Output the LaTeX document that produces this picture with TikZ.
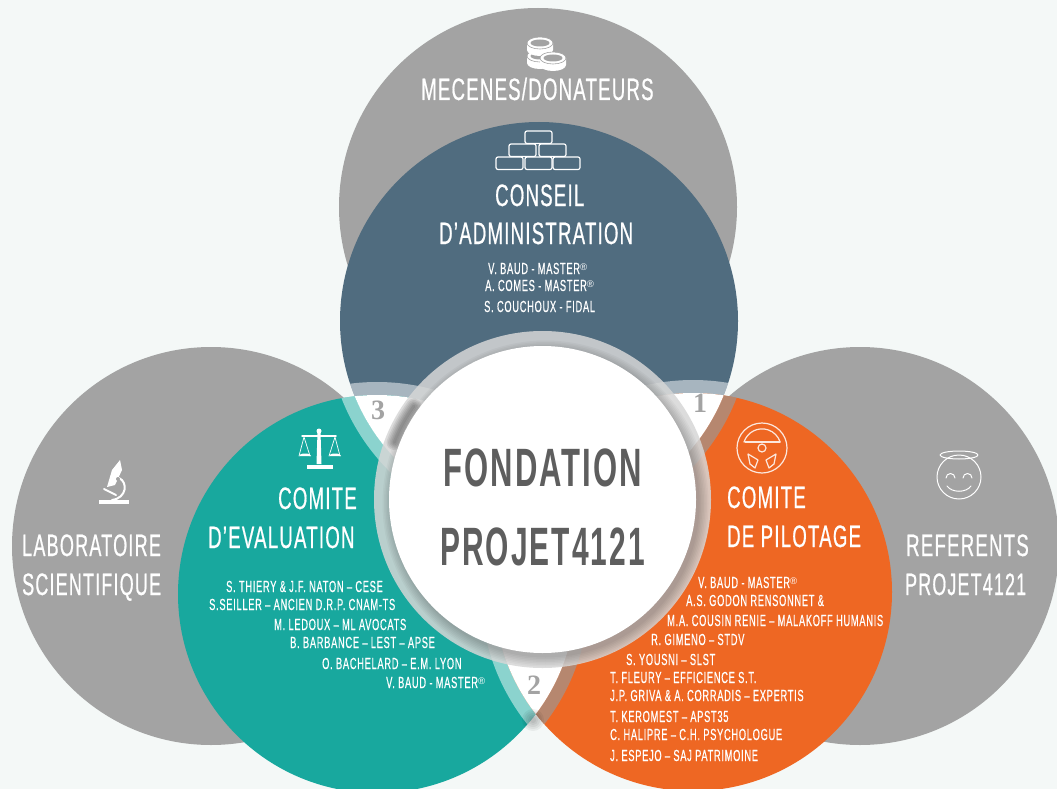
\documentclass[tikz,border=0pt]{standalone}
\usepackage{fontspec}
\setmainfont{Liberation Sans}
\newfontfamily\fonthead[FakeStretch=0.6,LetterSpace=4,FakeBold=0.6]{Liberation Sans}
\newfontfamily\fontnom[FakeStretch=0.58,LetterSpace=4.5,FakeBold=0.5]{Liberation Sans}
\newfontfamily\fontcentre[FakeStretch=0.58,LetterSpace=4]{Liberation Sans Bold}
\newfontfamily\fontnum{Liberation Serif}
\definecolor{fond}{HTML}{F4F8F7}
\definecolor{gris}{HTML}{A3A3A3}
\definecolor{bleu}{HTML}{506C7F}
\definecolor{turq}{HTML}{18A89E}
\definecolor{oran}{HTML}{EE6723}
\definecolor{sombre}{HTML}{5E5E5E}
\newcommand{\marque}{\raisebox{.45ex}{\scalebox{.6}{\normalfont ®}}}
\tikzset{
  titre/.style={anchor=base west,inner sep=0pt,text=white,font=\fonthead\fontsize{31}{31}\selectfont},
  nom/.style={anchor=base west,inner sep=0pt,text=white,font=\fontnom\fontsize{16}{16}\selectfont},
  centre/.style={anchor=base west,inner sep=0pt,text=sombre,font=\fontcentre\fontsize{54}{54}\selectfont},
  chiffre/.style={inner sep=0pt,text=gris,font=\fontnum\bfseries\fontsize{28}{28}\selectfont},
  trait/.style={draw=white,line width=1.2pt},
  volant/.style={draw=white!85!oran,line width=1.2pt},
  bandeclair/.style={fill=white,opacity=.5,even odd rule},
  bandebrun/.style={fill=gray!80,opacity=.65,even odd rule}
}
\begin{document}
\begin{tikzpicture}[x=1pt,y=-1pt,line cap=round,line join=round]
\useasboundingbox (0,0) rectangle (1057,789);
\fill[fond] (0,0) rectangle (1057,789);

\coordinate (chaut) at (538,207);
\coordinate (cgauche) at (211,546);
\coordinate (cdroite) at (860,546);
\coordinate (cbleu) at (539,321);
\coordinate (cturq) at (377,594);
\coordinate (coran) at (693,592);
\coordinate (ccentre) at (542.5,499.5);

% grey circles
\fill[gris] (chaut) circle (199);
\fill[gris] (cgauche) circle (199);
\fill[gris] (cdroite) circle (199);
% coloured circles
\fill[bleu] (cbleu) circle (199);
\fill[turq] (cturq) circle (199);
\fill[oran] (coran) circle (199);

% bands along the overlaps
\begin{scope}
\clip (cbleu) circle (199);
\fill[bandeclair] (cturq) circle (212) (cturq) circle (199);
\fill[bandeclair] (coran) circle (212) (coran) circle (199);
\end{scope}
\begin{scope}
\clip (cturq) circle (199);
\fill[bandeclair] (cbleu) circle (212) (cbleu) circle (199);
\fill[bandeclair] (coran) circle (212) (coran) circle (199);
\end{scope}
\begin{scope}
\clip (coran) circle (199);
\fill[bandebrun] (cbleu) circle (212) (cbleu) circle (199);
\fill[bandebrun] (cturq) circle (212) (cturq) circle (199);
\end{scope}
% white overlaps
\begin{scope}
\clip (cbleu) circle (199);
\fill[white] (cturq) circle (199);
\fill[white] (coran) circle (199);
\end{scope}
\begin{scope}
\clip (cturq) circle (199);
\fill[white] (coran) circle (199);
\end{scope}
\foreach \r in {3,5,7,9,11}
  \fill[black,opacity=.05] (533,720) circle (\r);

% centre ring and its shadow
\fill[gray!32,opacity=.85] (ccentre) circle (168.5);
\begin{scope}
\clip (ccentre) circle (168.5);
\foreach \r in {154,155.5,...,163}
  \fill[black,opacity=.03] (545.5,503.5) circle (\r);
\foreach \w in {3,6,9,12,15}
  \draw[black,opacity=.08,line width=\w pt] (ccentre) ++(201:159) arc (201:216:159);
\end{scope}
\fill[white] (ccentre) circle (153.5);

% coins
\foreach \cx/\cy in {540/56,540/43,553/58}{
  \fill[white] (\cx-13,\cy) -- (\cx-13,\cy+7) arc (180:0:13 and 6) -- (\cx+13,\cy) -- cycle;
  \draw[gris,fill=white,line width=.6pt] (\cx,\cy) ellipse (13 and 6);
  \fill[gris] (\cx,\cy) ellipse (9.5 and 3.5);
}
% bricks
\foreach \bx/\by in {525/131,509/144,539/144,496/157,525/157,553/157}
  \draw[trait,rounded corners=2pt] (\bx,\by) rectangle ++(27,12.5);
% scales
\fill[white] (317.5,432) -- (320.5,432) -- (321.5,464) -- (316.5,464) -- cycle;
\fill[white] (307,465) rectangle (333,469);
\draw[white,line width=1.5pt] (302,436) -- (336,436);
\fill[white] (319,431) circle (2.5);
\draw[white,line width=.7pt] (299,456) -- (304,437) -- (310,456);
\draw[white,line width=.7pt] (329,456) -- (335,437) -- (340,456);
\fill[white] (299,456) arc (180:0:6 and -2.5) -- cycle;
\fill[white] (329,456) arc (180:0:6 and -2.5) -- cycle;
% steering wheel
\draw[volant] (762,448) circle (25);
\draw[volant] (762,448) circle (4);
\draw[volant] (744,442) arc (198:342:19);
\draw[volant] (745,442) -- (780,442);
\draw[volant] (748,454) -- (758,460) -- (755,468) -- (750,464) -- cycle;
\draw[volant] (776,454) -- (766,460) -- (769,468) -- (774,464) -- cycle;
% smiley
\draw[white,line width=1pt] (959,477) circle (22);
\draw[white,line width=1pt] (959,455) ellipse (19 and 4);
\draw[white,line width=1pt] (946,478) arc (180:360:4.5);
\draw[white,line width=1pt] (963,478) arc (180:360:4.5);
\draw[white,line width=1pt] (947,486) .. controls (952,493) and (966,493) .. (971,486);
% microscope
\fill[white] (99,500) rectangle (129,504);
\fill[white] (120,460) -- (112,470) -- (107,487) -- (115,485) -- (122,470) -- cycle;
\draw[white,line width=2pt] (119,478) .. controls (128,482) and (127,498) .. (112,500);
\draw[white,line width=2pt] (104,489) -- (116,495);
\fill[gris] (118,479) circle (2);

% top
\node[titre] (mecenes) at (421,100) {MECENES/DONATEURS};
\node[titre] (conseil) at (495,206) {CONSEIL};
\node[titre] (admin) at (439,244) {D’ADMINISTRATION};
\node[nom] (caun) at (488,274) {V. BAUD - MASTER\marque};
\node[nom] (cadeux) at (485,291) {A. COMES - MASTER\marque};
\node[nom] (catrois) at (484,312) {S. COUCHOUX - FIDAL};
% left and right
\node[titre] (labo) at (22,556) {\scalebox{.97}[1]{LABORATOIRE}};
\node[titre] (scient) at (22,595) {\scalebox{.965}[1]{SCIENTIFIQUE}};
\node[titre] (refer) at (906,556) {REFERENTS};
\node[titre] (projet) at (905,595) {\scalebox{.96}[1]{PROJET4121}};
% evaluation
\node[titre] (comeval) at (278,509) {COMITE};
\node[titre] (eval) at (208,548) {D’EVALUATION};
\node[nom] (evun) at (226,592) {S. THIERY \& J.F. NATON – CESE};
\node[nom] (evdeux) at (209,610) {S.SEILLER – ANCIEN D.R.P. CNAM-TS};
\node[nom] (evtrois) at (274,630) {M. LEDOUX – ML AVOCATS};
\node[nom] (evquatre) at (290,648) {B. BARBANCE – LEST – APSE};
\node[nom] (evcinq) at (322,669) {O. BACHELARD – E.M. LYON};
\node[nom] (evsix) at (386,688) {V. BAUD - MASTER\marque};
% pilotage
\node[titre] (compil) at (727,508) {COMITE};
\node[titre] (pilot) at (727,547) {DE PILOTAGE};
\node[nom] (piun) at (698,588) {V. BAUD - MASTER\marque};
\node[nom] (pideux) at (686,606) {A.S. GODON RENSONNET \&};
\node[nom] (pitrois) at (667,626) {M.A. COUSIN RENIE – MALAKOFF HUMANIS};
\node[nom] (piquatre) at (651,645) {R. GIMENO – STDV};
\node[nom] (picinq) at (626,665) {S. YOUSNI – SLST};
\node[nom] (pisix) at (610,683) {T. FLEURY – EFFICIENCE S.T.};
\node[nom] (pisept) at (610,701) {J.P. GRIVA \& A. CORRADIS – EXPERTIS};
\node[nom] (pihuit) at (610,722) {T. KEROMEST – APST35};
\node[nom] (pineuf) at (610,740) {C. HALIPRE – C.H. PSYCHOLOGUE};
\node[nom] (pidix) at (610,761) {J. ESPEJO – SAJ PATRIMOINE};
% centre
\node[centre] (fond) at (443,486) {\scalebox{.99}[1]{FONDATION}};
\node[centre] (proj) at (440,565) {\scalebox{.955}[1]{PROJET4121}};
% numbers
\node[chiffre] (trois) at (378,410) {3};
\node[chiffre] (un) at (700,403) {1};
\node[chiffre] (deux) at (534,685) {2};
\end{tikzpicture}
\end{document}
